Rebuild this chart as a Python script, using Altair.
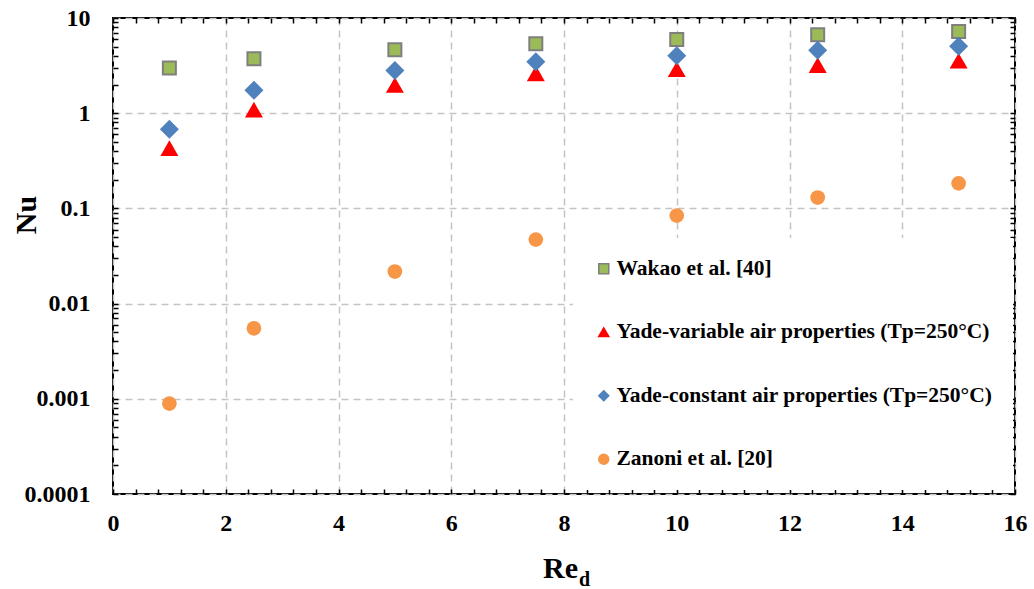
import altair as alt
import pandas as pd

# ---- data ----
re_d = [1, 2.5, 5, 7.5, 10, 12.5, 15]
series_names = [
    "Wakao et al. [40]",
    "Yade-variable air properties (Tp=250°C)",
    "Yade-constant air properties (Tp=250°C)",
    "Zanoni et al. [20]",
]
nu_wakao = [2.98, 3.73, 4.65, 5.38, 5.93, 6.65, 7.2]
nu_yade_variable = [0.43, 1.09, 1.98, 2.62, 2.9, 3.2, 3.55]
nu_yade_constant = [0.68, 1.74, 2.81, 3.47, 4.02, 4.58, 5.04]
nu_zanoni = [0.00089, 0.0055, 0.0217, 0.047, 0.084, 0.13, 0.183]

x_label_values = [0, 2, 4, 6, 8, 10, 12, 14, 16]
y_label_values = [0.0001, 0.001, 0.01, 0.1, 1, 10]
x_tick_values = [round(0.4 * i, 1) for i in range(41)]
y_tick_values = [m * 10.0 ** k for k in range(-4, 1) for m in range(1, 10)] + [10]

# ---- styles ----
fill_colors = ["#9BBB59", "#FF0000", "#4F81BD", "#F79646"]
stroke_colors = ["#7F7F7F", "#FF0000", "#4F81BD", "#F79646"]
shapes = ["square", "triangle-up", "diamond", "circle"]
marker_sizes = [169, 324, 361, 216]
marker_strokes = [2, 0, 0, 0]

FONT = "Liberation Serif"

rows = []
for name, vals in zip(series_names, [nu_wakao, nu_yade_variable, nu_yade_constant, nu_zanoni]):
    for x, y in zip(re_d, vals):
        rows.append({"series": name, "re": x, "nu": y})
df = pd.DataFrame(rows)

x_scale = alt.Scale(domain=[0, 16], nice=False, zero=False)
y_scale = alt.Scale(type="log", domain=[0.0001, 10], nice=False)

legend = alt.Legend(
    title=None, orient="none", legendX=460, legendY=220, padding=20,
    fillColor="white", symbolSize=100, symbolStrokeWidth=1.5,
    labelFont=FONT, labelFontWeight="bold", labelFontSize=21.5, labelColor="black",
    labelLimit=600, rowPadding=40.5, labelOffset=2,
)
fill_enc = alt.Fill("series:N", scale=alt.Scale(domain=series_names, range=fill_colors), legend=legend)
stroke_enc = alt.Stroke("series:N", scale=alt.Scale(domain=series_names, range=stroke_colors), legend=legend)
shape_enc = alt.Shape("series:N", scale=alt.Scale(domain=series_names, range=shapes), legend=legend)

grid_common = dict(gridColor="#C4C4C4", gridDash=[7, 5], gridWidth=1.5)
label_common = dict(labelFont=FONT, labelFontWeight="bold", labelFontSize=24, labelColor="black",
                    labelOverlap=False, labelFlush=False)

main_x_axis = alt.Axis(orient="bottom", values=x_label_values, format="d", ticks=False, tickSize=0,
                       domain=False, grid=True, title=None, labelPadding=17, **grid_common, **label_common)
main_y_axis = alt.Axis(orient="left", values=y_label_values, format="~g", ticks=False, tickSize=0,
                       domain=False, grid=True, title=None, labelPadding=23, **grid_common, **label_common)

main_axes = alt.Chart(df).mark_point(opacity=0).encode(
    x=alt.X("re:Q", scale=x_scale, axis=main_x_axis),
    y=alt.Y("nu:Q", scale=y_scale, axis=main_y_axis),
)

series_layers = []
for i, name in enumerate(series_names):
    series_layers.append(
        alt.Chart(df)
        .transform_filter(alt.datum.series == name)
        .mark_point(filled=True, size=marker_sizes[i], strokeWidth=marker_strokes[i], opacity=1)
        .encode(
            x=alt.X("re:Q", scale=x_scale, axis=None),
            y=alt.Y("nu:Q", scale=y_scale, axis=None),
            fill=fill_enc, stroke=stroke_enc, shape=shape_enc,
        )
    )
series = alt.layer(*series_layers)


def tick_axis(orient, values):
    return alt.Axis(orient=orient, values=values, offset=-5, tickSize=5, tickColor="black",
                    tickWidth=1.5, labels=False, domain=False, grid=False, title=None)


ticks_bl = alt.Chart(df).mark_point(opacity=0).encode(
    x=alt.X("re:Q", scale=x_scale, axis=tick_axis("bottom", x_tick_values)),
    y=alt.Y("nu:Q", scale=y_scale, axis=tick_axis("left", y_tick_values)),
)
ticks_tr = alt.Chart(df).mark_point(opacity=0).encode(
    x=alt.X("re:Q", scale=x_scale, axis=tick_axis("top", x_tick_values)),
    y=alt.Y("nu:Q", scale=y_scale, axis=tick_axis("right", y_tick_values)),
)

nu_title = alt.Chart(pd.DataFrame({"t": ["Nu"]})).mark_text(
    font=FONT, fontWeight="bold", fontSize=30, angle=270, align="center", baseline="middle", color="black"
).encode(x=alt.value(-86), y=alt.value(197), text="t:N")
re_title = alt.Chart(pd.DataFrame({"t": ["Re"]})).mark_text(
    font=FONT, fontWeight="bold", fontSize=30, align="right", baseline="alphabetic", color="black"
).encode(x=alt.value(465), y=alt.value(560), text="t:N")
d_title = alt.Chart(pd.DataFrame({"t": ["d"]})).mark_text(
    font=FONT, fontWeight="bold", fontSize=20, align="left", baseline="alphabetic", color="black"
).encode(x=alt.value(466), y=alt.value(568), text="t:N")

chart = (
    alt.layer(main_axes, series, ticks_bl, ticks_tr, nu_title, re_title, d_title)
    .resolve_axis(x="independent", y="independent")
    .properties(
        width=902, height=476,
        autosize=alt.AutoSizeParams(type="none"),
        padding={"left": 113, "top": 18, "right": 19, "bottom": 95},
        background="white",
    )
    .configure_view(stroke="black", strokeWidth=2)
)

chart.save("out.html", embed_options={"renderer": "svg", "actions": False})
